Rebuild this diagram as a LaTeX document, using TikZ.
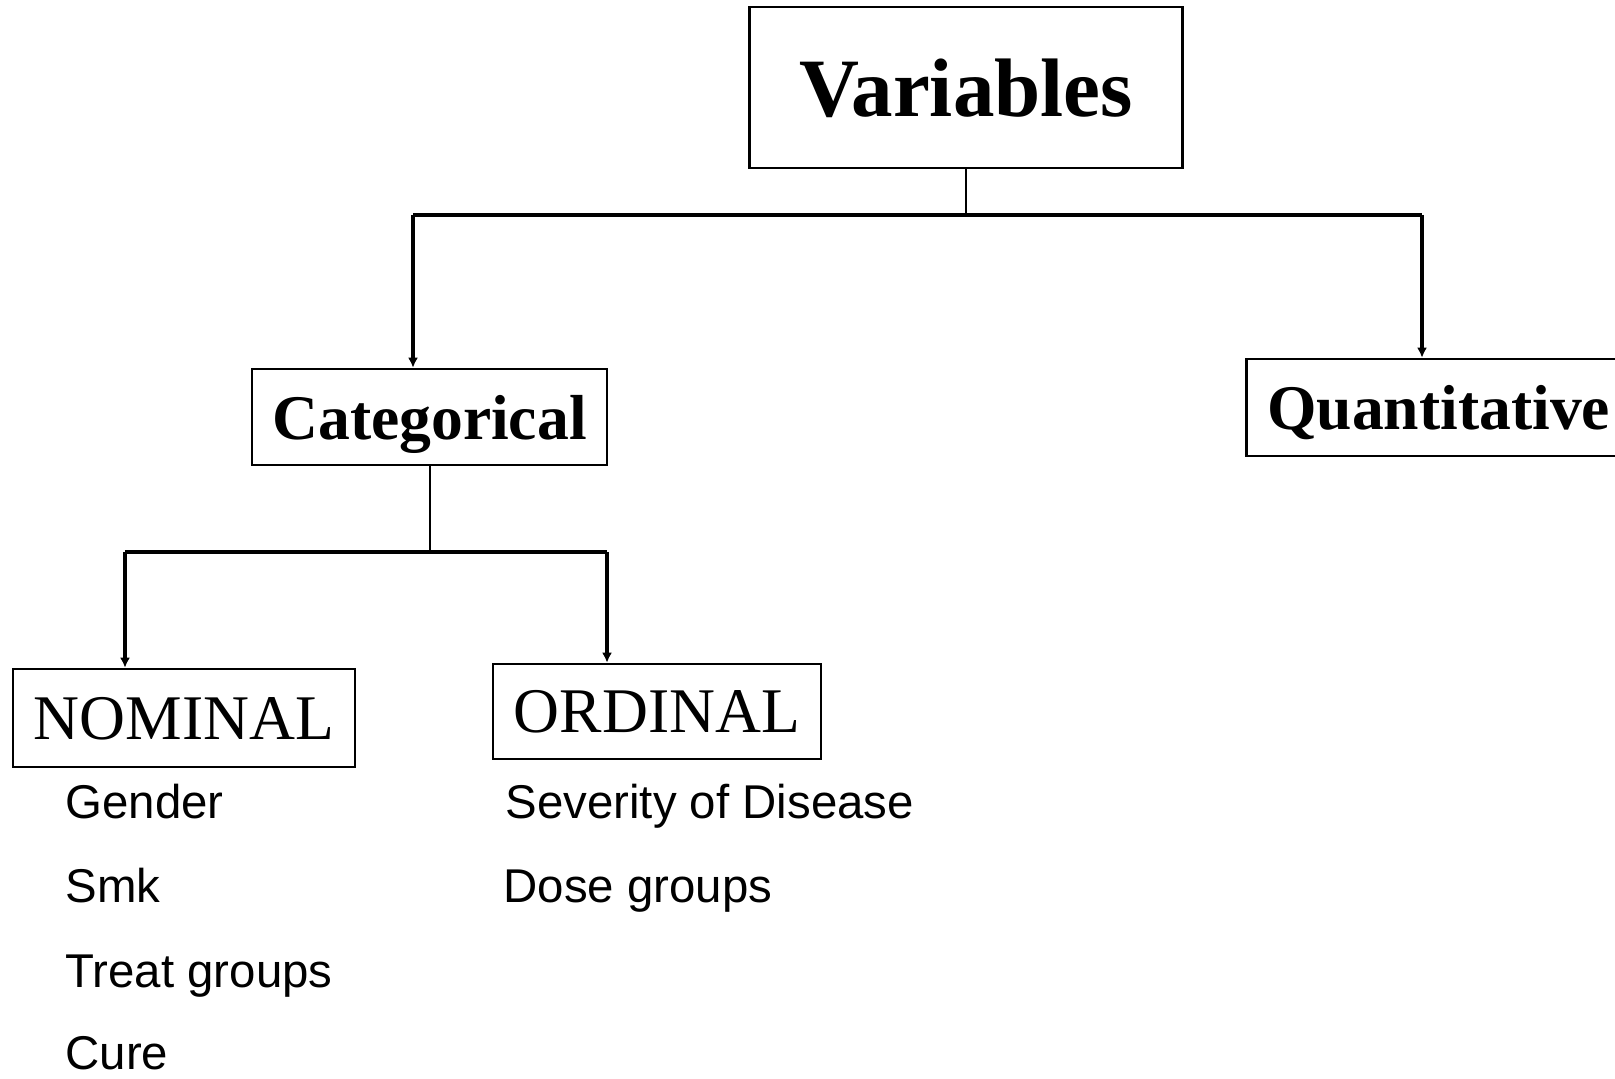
\documentclass[tikz,border=0pt]{standalone}
\usepackage{fontspec}
\setmainfont{Liberation Serif}
\newfontfamily\arialfont{Liberation Sans}
\usetikzlibrary{calc,arrows.meta}

\begin{document}
\begin{tikzpicture}[x=0.5pt, y=-0.5pt, line width=1.6pt,
    box/.style={draw, inner sep=0pt, text depth=0pt, line width=1.3pt},
    stem/.style={line width=1pt},
    arr/.style={-{Latex[length=5pt,width=5pt]}},
    item/.style={anchor=base west, inner sep=0pt, font=\arialfont\fontsize{23.7}{28}\selectfont}]
    \useasboundingbox (0,0) rectangle (1615,1079);

    \node [box, minimum width=216.5pt, minimum height=80.5pt, font=\bfseries\fontsize{41.5}{50}\selectfont] (V) at (966, 87.5) {Variables};
        \node [box, minimum width=177.5pt, minimum height=48pt, font=\bfseries\fontsize{31.8}{38}\selectfont] (C) at (429.5, 417) {Categorical};
            \node [box, minimum width=171pt, minimum height=49pt, font=\fontsize{31.8}{38}\selectfont] (N) at (184, 718) {NOMINAL};
            \node [box, minimum width=164pt, minimum height=47.5pt, font=\fontsize{31.8}{38}\selectfont] (O) at (657, 711.5) {ORDINAL};
        \node [box, anchor=west, inner xsep=10.5pt, minimum height=48.5pt, font=\bfseries\fontsize{31.8}{38}\selectfont] (Q) at (1245, 407.5) {Quantitative};

    % examples under each kind
    \node [item] (gen) at (64, 818) {Gender};
    \node [item] (smk) at (64, 902) {Smk};
    \node [item] (trt) at (64, 987) {Treat groups};
    \node [item] (cur) at (64, 1069) {Cure};
    \node [item] (sev) at (504, 818) {Severity of Disease};
    \node [item] (dos) at (502, 902) {Dose groups};

    \coordinate (J1) at (966, 215);
    \coordinate (JL) at (413, 215);
    \coordinate (JR) at (1422, 215);
    \coordinate (J2) at ($(C.south) + (0, 87)$);
    \coordinate (JN) at (125, 552);
    \coordinate (JO) at (607, 552);

    \draw [stem] (V) -- (J1);
    \draw (JL) -- (JR);
    \draw [arr] (JL) -- (JL |- C.north);
    \draw [arr] (JR) -- (JR |- Q.north);
        \draw [stem] (C) -- (J2);
        \draw (JN) -- (JO);
        \draw [arr] (JN) -- (JN |- N.north);
        \draw [arr] (JO) -- (JO |- O.north);
\end{tikzpicture}
\end{document}
